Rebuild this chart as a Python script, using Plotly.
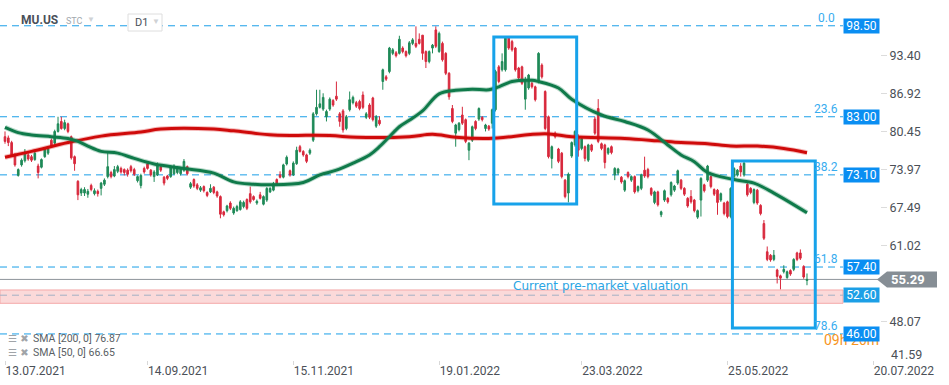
import plotly.graph_objects as go

# ---------------- data ----------------
opens = [
    79.6, 79.4, 78.6, 76.5, 73.0, 74.8, 75.5, 76.5, 76.2, 75.7, 74.6, 74.4, 76.2, 76.8, 79.0, 78.5, 80.5, 82.2, 81.0, 81.8,
    79.6, 76.2, 72.0, 70.0, 70.0, 69.8, 71.3, 69.9, 70.3, 70.8, 71.5, 72.8, 73.5, 72.9, 73.7, 74.2, 74.0, 73.9, 74.5, 74.0,
    72.1, 71.3,
    74.2, 75.0, 73.9, 72.8, 73.1, 74.5, 72.7, 72.9, 72.8, 73.3, 73.5, 73.3, 73.9, 74.5, 71.0, 72.3, 71.4, 70.5, 71.1, 70.1,
    70.2, 71.0, 70.2, 69.4, 66.8, 67.0, 68.3, 66.6, 67.0, 67.2, 67.7, 68.9, 69.9, 69.4, 68.3, 69.7, 68.1, 68.8, 70.2, 70.5,
    72.3, 73.1,
    72.7, 74.95, 73.8, 73.1, 75.0, 77.9, 77.1, 76.5, 76.8, 79.0, 83.5, 84.6, 84.3, 83.0, 84.3, 85.75, 86.5, 83.5, 84.0, 81.0,
    84.2, 85.4, 85.4, 85.6, 86.7, 82.9, 85.0, 86.2, 81.4, 82.4, 89.0, 89.8, 90.7, 93.8, 93.9, 93.8, 94.7, 94.1, 93.8, 95.5,
    95.5,
    96.2, 96.9, 94.1, 92.4, 94.7, 97.8, 94.1, 95.5, 93.8, 90.4, 84.4, 80.2, 80.8, 83.3, 82.5, 77.3, 79.0, 82.2, 82.6, 82.9,
    81.0, 81.4, 81.9, 84.2, 91.5, 91.0, 91.0, 96.4, 95.8, 94.7, 91.3, 91.5, 86.0, 87.9, 88.7, 88.1, 89.0, 91.8, 87.3, 83.0,
    75.9, 80.2, 77.5, 76.8, 72.2, 70.0, 76.3, 78.2, 79.5, 77.6, 77.9, 75.6, 78.2, 82.6, 84.4, 78.4, 78.2, 76.8, 77.9, 73.1,
    73.4, 72.7, 70.5, 73.5, 72.2, 72.8, 70.4, 70.8, 73.9, 74.0, 70.8, 68.4, 70.2, 66.3, 68.8, 69.1, 69.7, 70.5, 71.7,
    72.2, 70.8, 69.1, 69.4, 68.8, 65.9, 68.8, 71.4, 72.2, 72.8, 70.6, 70.5, 68.8, 68.3, 68.5, 66.0, 72.8, 73.1, 74.6, 73.1,
    71.5, 70.8, 68.4, 70.5, 67.9, 64.8, 60.0, 59.4, 58.7, 56.9, 55.9, 56.6, 55.6, 56.8, 57.0, 59.8, 59.8, 57.5, 55.1,
]
highs = [
    80.5, 79.8, 78.9, 76.8, 74.2, 75.9, 77.5, 76.8, 76.5, 77.2, 75.0, 75.9, 77.8, 78.0, 79.3, 80.8, 83.0, 83.0, 82.5, 82.0,
    79.8, 76.4, 72.2, 70.9, 71.0, 70.7, 71.6, 70.8, 70.6, 71.9, 72.5, 76.9, 73.8, 74.6, 74.8, 74.5, 74.2, 74.2, 74.8, 74.3,
    73.0, 73.3,
    74.5, 75.4, 74.1, 73.9, 75.2, 74.8, 72.9, 73.1, 74.7, 74.9, 74.6, 74.4, 75.8, 74.7, 71.9, 72.5, 71.7, 71.2, 71.3, 70.3,
    71.5, 71.2, 70.4, 69.6, 67.0, 68.0, 68.6, 67.7, 68.0, 68.8, 68.7, 69.1, 71.1, 69.6, 68.9, 70.2, 69.6, 71.0, 71.0, 71.9,
    72.5, 73.7,
    75.0, 76.4, 74.0, 75.4, 77.9, 78.2, 77.3, 76.7, 77.6, 83.8, 87.6, 87.6, 87.0, 84.2, 86.3, 86.0, 89.0, 83.8, 84.3, 83.3,
    87.3, 86.6, 85.7, 85.9, 87.3, 83.8, 85.3, 86.4, 83.3, 83.1, 91.2, 90.1, 94.9, 94.7, 94.2, 96.8, 95.0, 94.3, 95.9, 96.4,
    98.4,
    97.2, 96.9, 94.3, 94.3, 95.4, 98.4, 97.5, 95.8, 94.0, 90.6, 85.0, 81.8, 82.1, 84.7, 82.7, 78.7, 81.5, 82.4, 84.6, 83.1,
    81.8, 81.6, 84.4, 91.0, 91.8, 93.8, 96.6, 96.7, 96.1, 94.9, 91.5, 91.7, 89.8, 90.3, 89.0, 88.3, 94.0, 92.1, 87.5, 83.2,
    78.1, 80.5, 77.7, 77.0, 72.4, 73.5, 78.8, 80.7, 80.0, 79.5, 78.1, 78.4, 78.4, 83.0, 86.0, 78.6, 78.4, 77.8, 78.1, 74.4,
    74.3, 72.9, 72.3, 73.7, 73.0, 73.0, 71.3, 73.3, 76.2, 74.3, 71.0, 70.4, 70.4, 67.0, 70.6, 69.3, 72.0, 71.4, 74.0,
    72.4, 71.0, 69.3, 70.5, 69.0, 67.2, 72.7, 71.6, 74.8, 73.0, 70.8, 70.7, 70.1, 68.5, 68.7, 71.0, 74.4, 74.1, 75.1, 75.3,
    71.7, 71.0, 70.8, 70.7, 68.1, 65.4, 60.9, 59.6, 60.3, 57.1, 56.1, 57.7, 56.8, 57.0, 58.9, 60.0, 60.4, 57.7, 56.3,
]
lows = [
    78.4, 78.0, 76.2, 74.5, 72.8, 74.5, 75.2, 75.5, 75.3, 75.5, 72.5, 74.2, 76.0, 76.5, 77.7, 78.2, 80.3, 80.8, 80.7, 80.2,
    75.7, 73.8, 68.8, 69.5, 69.5, 69.2, 70.3, 69.6, 69.4, 69.6, 71.2, 72.5, 72.5, 72.7, 73.4, 73.3, 73.0, 72.8, 73.5, 72.9,
    71.8, 70.8,
    73.3, 74.0, 72.8, 71.9, 72.9, 73.6, 71.3, 72.2, 72.6, 73.1, 73.2, 73.0, 73.6, 73.0, 70.7, 70.9, 70.5, 70.2, 70.1, 69.3,
    70.0, 69.8, 69.2, 65.7, 66.0, 66.7, 67.1, 66.3, 66.8, 67.0, 67.4, 67.1, 68.2, 68.7, 68.0, 68.9, 67.9, 68.5, 70.0, 70.3,
    71.2, 72.5,
    72.5, 74.7, 72.8, 72.9, 74.8, 76.9, 76.2, 75.1, 76.5, 78.7, 83.2, 84.4, 84.0, 82.2, 84.0, 84.7, 85.7, 81.3, 80.3, 80.7,
    83.9, 85.1, 84.5, 84.1, 84.3, 82.6, 82.6, 82.2, 81.1, 81.5, 87.6, 89.1, 90.4, 93.5, 93.1, 93.6, 93.8, 93.1, 93.5, 95.2,
    94.7,
    95.3, 92.7, 91.3, 92.1, 93.8, 94.7, 93.9, 92.4, 90.1, 85.9, 81.9, 77.9, 80.5, 81.6, 78.5, 75.6, 78.7, 80.7, 82.3, 82.2,
    80.5, 80.6, 81.0, 83.9, 88.7, 90.7, 90.7, 94.4, 94.1, 90.7, 89.3, 88.4, 84.2, 87.6, 87.8, 85.6, 88.7, 89.5, 80.7, 75.9,
    74.2, 79.3, 75.1, 72.5, 69.1, 68.4, 76.0, 77.9, 76.2, 77.3, 75.4, 75.3, 77.0, 79.9, 78.5, 77.3, 74.2, 76.5, 76.6, 72.2,
    73.1, 71.6, 70.2, 72.5, 71.9, 69.9, 70.1, 70.5, 72.6, 72.5, 69.5, 68.1, 67.7, 65.9, 68.5, 68.2, 69.4, 70.2, 71.4,
    70.5, 69.5, 67.5, 68.2, 66.7, 65.6, 66.0, 70.1, 71.9, 70.8, 69.5, 66.3, 68.5, 66.2, 65.7, 65.7, 72.5, 72.8, 72.8, 72.8,
    69.4, 69.8, 68.1, 68.0, 66.2, 62.0, 58.4, 58.3, 58.4, 54.6, 53.6, 56.3, 55.4, 55.9, 56.7, 58.4, 58.6, 55.4, 54.3,
]
closes = [
    78.8, 78.6, 76.5, 74.8, 74.0, 75.6, 77.0, 75.8, 75.6, 76.8, 73.5, 75.7, 77.5, 77.6, 78.0, 80.5, 81.8, 81.0, 82.0, 80.5,
    76.0, 75.0, 69.7, 70.6, 70.6, 70.3, 70.6, 70.4, 69.9, 71.7, 72.2, 74.5, 72.8, 74.0, 74.5, 73.6, 73.5, 73.2, 73.8, 73.2,
    72.8, 73.0,
    73.6, 74.2, 73.1, 73.6, 74.9, 73.9, 71.7, 72.5, 74.5, 74.6, 74.3, 74.2, 75.4, 73.3, 71.6, 71.2, 70.8, 70.9, 70.4, 69.6,
    70.8, 70.1, 69.5, 66.4, 66.3, 67.8, 67.4, 67.4, 67.7, 68.5, 68.4, 67.4, 68.5, 68.9, 68.6, 69.1, 69.4, 70.8, 70.8, 71.6,
    71.5, 72.7,
    74.8, 76.1, 73.1, 75.1, 77.3, 77.1, 76.5, 75.4, 77.3, 83.5, 84.6, 85.2, 86.3, 83.9, 86.0, 85.0, 86.0, 82.2, 80.75, 83.0,
    85.9, 86.3, 84.8, 84.4, 84.6, 83.5, 82.9, 82.5, 83.0, 81.8, 91.0, 89.4, 94.7, 94.4, 93.4, 96.2, 94.1, 93.4, 95.6, 96.1,
    95.0,
    95.5, 93.8, 92.4, 94.1, 95.2, 95.0, 97.2, 92.7, 90.4, 86.4, 82.2, 81.6, 81.9, 81.9, 78.8, 78.5, 81.3, 81.0, 84.4, 82.5,
    81.6, 80.9, 84.2, 90.7, 89.0, 92.4, 96.4, 94.7, 94.4, 91.0, 89.6, 88.7, 89.3, 90.1, 88.1, 85.9, 93.8, 89.8, 81.0, 76.2,
    77.9, 79.6, 75.4, 72.8, 69.4, 73.2, 78.6, 80.5, 77.3, 79.3, 75.9, 78.2, 77.3, 80.2, 78.8, 77.6, 75.2, 77.6, 76.9, 74.2,
    74.1, 71.9, 72.1, 72.8, 72.8, 70.2, 71.1, 73.1, 72.9, 72.8, 69.8, 70.2, 68.0, 66.8, 70.4, 68.5, 71.8, 71.2, 73.8,
    70.8, 69.8, 67.8, 68.5, 67.0, 67.0, 72.5, 70.4, 74.6, 71.1, 69.8, 68.4, 69.9, 66.5, 66.0, 70.8, 74.2, 73.9, 73.6, 75.1,
    69.7, 70.1, 70.6, 68.3, 66.5, 62.3, 58.7, 58.6, 59.4, 55.8, 55.5, 57.0, 56.6, 56.2, 58.7, 58.7, 58.9, 55.7, 55.29,
]

# SMA curves (bar index, value)
sma200_idx = [0, 8, 19, 29, 41, 47, 63, 69, 81, 98, 106, 122, 129, 136, 146, 163, 171, 187, 197, 204, 212, 219, 227, 235, 242]
sma200_val = [76.1, 77.1, 78.6, 79.7, 80.4, 80.9, 80.9, 80.6, 79.9, 79.8, 79.5, 79.6, 80.0, 79.5, 79.3, 80.1, 79.6, 79.3,
              78.9, 78.6, 78.4, 78.0, 78.0, 77.6, 76.87]
sma50_idx = [0, 4, 8, 14, 19, 22, 25, 29, 34, 39, 45, 54, 63, 69, 75, 80, 90, 95, 100, 105, 110, 113, 116, 119, 122,
             126, 131, 136, 141, 146, 149, 153, 159, 161, 167, 171, 180, 187, 194, 200, 204, 208, 212, 220, 226, 232, 242]
sma50_val = [81.2, 80.3, 79.9, 79.6, 79.3, 78.8, 78.0, 77.1, 76.8, 75.9, 74.95, 74.2, 73.4, 71.9, 71.5, 71.4, 71.8, 73.1,
             73.9, 75.1, 76.5, 77.9, 79.6, 81.3, 82.4, 84.0, 86.9, 87.5, 87.7, 87.6, 88.1, 89.0, 89.2, 89.0, 87.9, 86.0,
             83.3, 82.2, 80.75, 78.2, 76.5, 75.35, 73.5, 72.3, 71.7, 70.0, 66.65]

date_tick_idx = [0, 43, 87, 131, 174, 218, 262]
date_tick_text = ["13.07.2021", "14.09.2021", "15.11.2021", "19.01.2022", "23.03.2022", "25.05.2022", "20.07.2022"]
price_ticks = [93.40, 86.92, 80.45, 73.97, 67.49, 61.02, 48.07]
fib_levels = [98.50, 83.00, 73.10, 57.40, 46.00]
fib_labels = ["0.0", "23.6", "38.2", "61.8", "78.6"]
support_level = 52.60
band_low, band_high = 51.22, 53.49
last_price = 55.29
sma200_last, sma50_last = 76.87, 66.65
boxes = [(147.5, 172.5, 68.14, 96.59), (219.5, 244.5, 47.0, 75.46)]

# ---------------- figure ----------------
W, H = 949, 385
ML, MR, MT, MB = 0, 69, 0, 25
PW = W - ML - MR          # 880
PH = H - MT - MB          # 360
k = 3.314                 # px per bar
x_range = [-5 / k, (PW - 5) / k]
y_top, y_bot = 102.89, 41.56


def px_x(px):
    return px / PW


def px_y(py):
    return 1 - py / PH


BLUE = "#17a2ea"
FIBBLUE = "#1a9fe8"
BOXBLUE = "#0a8ef2"

fig = go.Figure()

fig.add_trace(go.Scatter(x=sma200_idx, y=sma200_val, mode="lines", hoverinfo="skip",
                         line=dict(color="rgba(220,30,30,0.3)", width=5, shape="spline")))
fig.add_trace(go.Scatter(x=sma200_idx, y=sma200_val, mode="lines", hoverinfo="skip",
                         line=dict(color="#cf0a0a", width=3, shape="spline")))
fig.add_trace(go.Scatter(x=sma50_idx, y=sma50_val, mode="lines", hoverinfo="skip",
                         line=dict(color="rgba(20,130,80,0.3)", width=5, shape="spline")))
fig.add_trace(go.Scatter(x=sma50_idx, y=sma50_val, mode="lines", hoverinfo="skip",
                         line=dict(color="#0f7a4a", width=3, shape="spline")))

fig.add_trace(go.Candlestick(
    x=list(range(len(opens))), open=opens, high=highs, low=lows, close=closes,
    increasing=dict(line=dict(color="#1f8a58", width=1), fillcolor="#1f8a58"),
    decreasing=dict(line=dict(color="#d8283c", width=1), fillcolor="#d8283c"),
    whiskerwidth=0, hoverinfo="skip"))

shapes = []
# pink support band
shapes.append(dict(type="rect", xref="paper", yref="y", x0=0, x1=px_x(843), y0=band_low, y1=band_high,
                   fillcolor="rgba(247,170,170,0.45)", line=dict(color="#f4a9a9", width=1), layer="below"))
# fib lines
for lv in fib_levels:
    shapes.append(dict(type="line", xref="paper", yref="y", x0=0, x1=px_x(843), y0=lv, y1=lv,
                       line=dict(color=FIBBLUE, width=1, dash="7px,5px"), layer="below"))
shapes.append(dict(type="line", xref="paper", yref="y", x0=0, x1=px_x(843), y0=support_level, y1=support_level,
                   line=dict(color="#a3b0c4", width=1, dash="7px,5px"), layer="below"))
# current price line
shapes.append(dict(type="line", xref="paper", yref="y", x0=0, x1=1, y0=last_price, y1=last_price,
                   line=dict(color="#8d949a", width=1), layer="below"))
# highlight boxes
for x0, x1, y0, y1 in boxes:
    shapes.append(dict(type="rect", xref="x", yref="y", x0=x0, x1=x1, y0=y0, y1=y1,
                       line=dict(color=BLUE, width=3), fillcolor="rgba(0,0,0,0)", layer="above"))
# price arrow label
dy = 8 / 5.87
xa, xb, xc = px_x(877), px_x(887), px_x(937)
shapes.append(dict(type="path", xref="paper", yref="y",
                   path=f"M {xa} {last_price} L {xb} {last_price + dy} L {xc} {last_price + dy} "
                        f"L {xc} {last_price - dy} L {xb} {last_price - dy} Z",
                   fillcolor="#868e95", line=dict(width=0), layer="above"))
# D1 box
shapes.append(dict(type="rect", xref="paper", yref="paper", x0=px_x(128), x1=px_x(162), y0=px_y(31), y1=px_y(14),
                   fillcolor="white", line=dict(color="#dedede", width=1), layer="above"))

ann = []
# header
ann.append(dict(text="<b>MU.US</b>", x=px_x(19), y=px_y(20), xref="paper", yref="paper", xanchor="left",
                yanchor="middle", showarrow=False, font=dict(size=12, color="#4a5059")))
ann.append(dict(text="STC", x=px_x(64), y=px_y(21), xref="paper", yref="paper", xanchor="left",
                yanchor="middle", showarrow=False, font=dict(size=9, color="#a2a8ae")))
ann.append(dict(text="▼", x=px_x(85), y=px_y(19), xref="paper", yref="paper", xanchor="left",
                yanchor="middle", showarrow=False, font=dict(size=8, color="#cfd2d5")))
ann.append(dict(text="D1", x=px_x(133), y=px_y(22), xref="paper", yref="paper", xanchor="left",
                yanchor="middle", showarrow=False, font=dict(size=11, color="#4a5059")))
ann.append(dict(text="▼", x=px_x(150), y=px_y(21), xref="paper", yref="paper", xanchor="left",
                yanchor="middle", showarrow=False, font=dict(size=8, color="#cfd2d5")))
# legend
for py, lab in [(338, f"SMA [200, 0] {sma200_last:.2f}"), (352, f"SMA [50, 0] {sma50_last:.2f}")]:
    ann.append(dict(text="☰ ✖", x=px_x(6), y=px_y(py), xref="paper", yref="paper", xanchor="left",
                    yanchor="middle", showarrow=False, font=dict(size=10, color="#a0a4a8", family="DejaVu Sans")))
    ann.append(dict(text=lab, x=px_x(31), y=px_y(py), xref="paper", yref="paper", xanchor="left",
                    yanchor="middle", showarrow=False, font=dict(size=10.5, color="#5a5f65")))
# timer
ann.append(dict(text="09h 26m", x=px_x(822), y=px_y(340), xref="paper", yref="paper", xanchor="left",
                yanchor="middle", showarrow=False, font=dict(size=14, color="#f7941d")))
# fib percentage labels
for lv, lab in zip(fib_levels, fib_labels):
    ann.append(dict(text=lab, x=px_x(826), y=lv, xref="paper", yref="y", xanchor="center", yanchor="middle",
                    yshift=8, showarrow=False, font=dict(size=12, color="#37acef")))
# fib price boxes
for lv in fib_levels:
    ann.append(dict(text=f"{lv:.2f}", x=1, y=lv, xref="paper", yref="y", xanchor="right", yanchor="middle",
                    showarrow=False, bgcolor=BOXBLUE, borderpad=1, width=33, height=12,
                    font=dict(size=12, color="white")))
ann.append(dict(text=f"{support_level:.2f}", x=1, y=support_level, xref="paper", yref="y", xanchor="right",
                yanchor="middle", showarrow=False, bgcolor="#1c9fe6", borderpad=1, width=33, height=12,
                font=dict(size=12, color="white")))
# last price text
ann.append(dict(text="<b>55.29</b>", x=px_x(889), y=last_price, xref="paper", yref="y", xanchor="left",
                yanchor="middle", showarrow=False, font=dict(size=13, color="white")))
# pre-market note
ann.append(dict(text="Current pre-market valuation", x=px_x(511), y=px_y(286), xref="paper", yref="paper",
                xanchor="left", yanchor="middle", showarrow=False,
                font=dict(size=12, color="#2ba6e4", family="DejaVu Sans")))
# lowest price tick (lifted above date labels)
ann.append(dict(text="41.59", x=px_x(889), y=px_y(354), xref="paper", yref="paper", xanchor="left",
                yanchor="middle", showarrow=False, font=dict(size=12.5, color="#4b5057")))

fig.update_layout(
    width=W, height=H, margin=dict(l=ML, r=MR, t=MT, b=MB),
    paper_bgcolor="white", plot_bgcolor="white",
    showlegend=False, hovermode=False,
    font=dict(family="Roboto, sans-serif", color="#4b5057"),
    shapes=shapes, annotations=ann,
    xaxis=dict(range=x_range, tickvals=date_tick_idx, ticktext=date_tick_text,
               ticklabelposition="outside right", ticks="outside", ticklen=4, tickcolor="#d8d8d8",
               showgrid=False, zeroline=False, showline=False, rangeslider=dict(visible=False),
               tickfont=dict(size=12, color="#4b5057"), automargin=False, fixedrange=True),
    yaxis=dict(range=[y_bot, y_top], side="right", tickvals=price_ticks,
               ticktext=[f"{v:.2f}" for v in price_ticks], ticks="outside", ticklen=6, tickcolor="#dcdcdc",
               showgrid=False, zeroline=False, showline=False,
               tickfont=dict(size=12.5, color="#4b5057"), automargin=False, fixedrange=True),
)

fig.write_html("out.html", config={"displayModeBar": False},
               post_script="document.body.style.margin='0px';document.body.style.overflow='hidden';")
